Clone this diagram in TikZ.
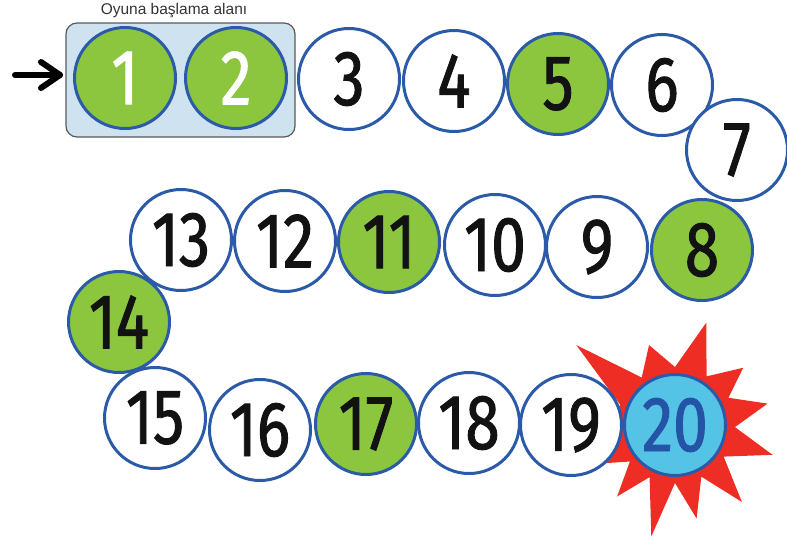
\documentclass[tikz,border=0pt]{standalone}
\usepackage{fontspec}
\setmainfont{Liberation Sans}
\newfontfamily\numfont[FakeStretch=0.8,FakeBold=1.2]{Fira Sans}
\definecolor{ringblue}{HTML}{2B5BA8}
\definecolor{cellgreen}{HTML}{8CC63F}
\definecolor{boxblue}{HTML}{CFE2F0}
\definecolor{boxgray}{HTML}{5A5A5A}
\definecolor{goalcyan}{HTML}{54C3E6}
\definecolor{goaltext}{HTML}{2553A6}
\definecolor{burstred}{HTML}{EE2E24}
\definecolor{labelgray}{HTML}{333333}
\tikzset{startarrow/.style={draw=black,line width=6pt,line cap=round,line join=round}}
\begin{document}
\begin{tikzpicture}[x=1pt,y=-1pt,
  cell/.style={circle,draw=ringblue,line width=3pt,fill=white,minimum size=101pt,
    inner sep=0pt,font=\numfont\fontsize{78}{78}\selectfont,text=black!93},
  greencell/.style={cell,fill=cellgreen},
  startcell/.style={cell,fill=cellgreen,text=white},
  goalcell/.style={cell,fill=goalcyan,text=goaltext},
  startbox/.style={draw=boxgray,fill=boxblue,line width=1.2pt,rounded corners=11pt,
    minimum width=229pt,minimum height=114pt,inner sep=0pt},
  boxlabel/.style={font=\fontsize{15.5}{16}\selectfont,text=labelgray,inner sep=0pt},
  burst/.style={fill=burstred}
]
\useasboundingbox (0,0) rectangle (787,538);

% start area
\node[startbox] (box) at (180.5,80) {};
\node[boxlabel] (lbl) at (174,11) {Oyuna başlama alanı};
\coordinate (astart) at (15,75);
\coordinate (atip) at (60,75);
\coordinate (abarbup) at (41,62);
\coordinate (abarbdown) at (41,88);
\draw[startarrow] (astart) -- (atip);
\draw[startarrow] (abarbup) -- (atip) -- (abarbdown);

% burst behind 20
\coordinate (s20) at (675,425);
\begin{scope}[shift={(s20)}]
\fill[burst] (141:127pt) -- (125:58pt) -- (108:84pt) -- (90:58pt) -- (73:107pt) -- (57:58pt)
  -- (40:89pt) -- (27:60pt) -- (13:95pt) -- (-2:60pt) -- (-17:102pt) -- (-33:58pt)
  -- (-49:102pt) -- (-63:58pt) -- (-77:96pt) -- (-90:58pt) -- (-102:114pt) -- (-116:58pt)
  -- (-129:92pt) -- (-141:58pt) -- (-153:85pt) -- (-167:58pt) -- (178:80pt) -- (160:58pt) -- cycle;
\end{scope}

% cells
\node[startcell] (c1) at (125,78) {1};
\node[startcell] (c2) at (236,78) {2};
\node[cell] (c3) at (349,79) {3};
\node[cell] (c4) at (454,81) {4};
\node[greencell] (c5) at (558,84) {5};
\node[cell] (c6) at (662,85) {6};
\node[cell] (c7) at (737,150) {7};
\node[greencell] (c8) at (702,250) {8};
\node[cell] (c9) at (597,247) {9};
\node[cell] (c10) at (495,245) {10};
\node[greencell] (c11) at (389,242) {11};
\node[cell] (c12) at (285,241) {12};
\node[cell] (c13) at (181,240) {13};
\node[greencell] (c14) at (119,322) {14};
\node[cell] (c15) at (155,418) {15};
\node[cell] (c16) at (260,430) {16};
\node[greencell] (c17) at (366,424) {17};
\node[cell] (c18) at (469,423) {18};
\node[cell] (c19) at (571,425) {19};
\node[goalcell] (c20) at (s20) {20};
\end{tikzpicture}
\end{document}
